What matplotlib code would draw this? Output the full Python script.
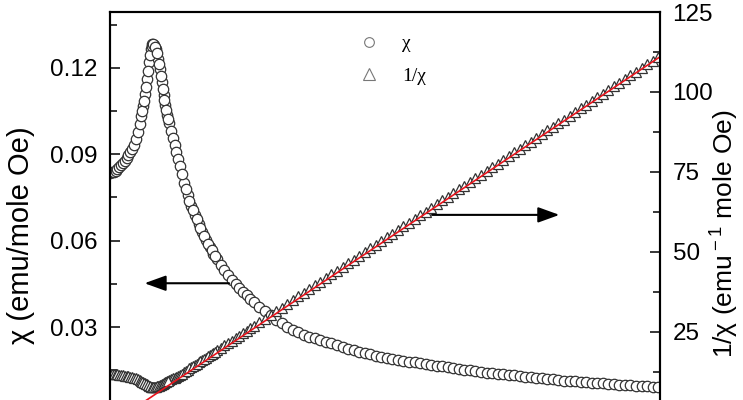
import matplotlib
matplotlib.use("Agg")
import matplotlib.pyplot as plt
from matplotlib.lines import Line2D
from matplotlib.ticker import MultipleLocator, FixedLocator, FormatStrFormatter

plt.rcParams['font.family'] = ['Liberation Sans', 'DejaVu Sans']
plt.rcParams['mathtext.fontset'] = 'custom'
plt.rcParams['mathtext.rm'] = 'Liberation Sans'

# temperature (K)
T = [2, 3, 4, 5, 6, 7, 8, 9, 10, 11, 12, 13, 14, 15, 16, 17, 18, 19, 20, 21,
     22, 23, 24, 25, 26, 27, 28, 29, 30, 31, 32, 33, 34, 35, 36, 37, 38, 39, 40,
     42, 44, 46, 48, 50, 52, 54, 56, 58, 60, 62, 64, 66, 68, 70, 72, 74, 76, 78, 80,
     83, 86, 89, 92, 95, 98, 101, 104, 107, 110, 113, 116, 119, 122, 125, 128,
     131, 134, 137, 140, 143, 146, 149, 152, 155, 158, 161, 164, 167, 170, 173,
     176, 179, 182, 185, 188, 191, 194, 197, 200, 203, 206, 209, 212, 215, 218,
     221, 224, 227, 230, 233, 236, 239, 242, 245, 248, 251, 254, 257, 260, 263,
     266, 269, 272, 275, 278, 281, 284, 287, 290, 293, 296, 299]

# chi (emu/mole Oe)
chi = [0.0836, 0.0837, 0.0839, 0.0843, 0.0848, 0.0854, 0.0861, 0.0868, 0.0876, 0.0886,
       0.0897, 0.0908, 0.0917, 0.0932, 0.0952, 0.0976, 0.1004, 0.1034, 0.1066, 0.1108,
       0.1160, 0.1222, 0.1265, 0.1283, 0.1280, 0.1265, 0.1232, 0.1195, 0.1150, 0.1107,
       0.1070, 0.1038, 0.1008, 0.0982, 0.0956, 0.0932, 0.0908, 0.0884, 0.0860,
       0.0800, 0.0757, 0.0722, 0.0690, 0.0659, 0.0630, 0.0603, 0.0578, 0.0555, 0.0535,
       0.0516, 0.0498, 0.0481, 0.0465, 0.0450, 0.0436, 0.0423, 0.0410, 0.0398, 0.0387,
       0.0370, 0.0354, 0.0340, 0.0326, 0.0313, 0.0301, 0.0289, 0.0281, 0.0274, 0.0267,
       0.0261, 0.0255, 0.0249, 0.0243, 0.0237, 0.0231, 0.0225, 0.0220, 0.0214, 0.0209,
       0.0205, 0.0200, 0.0196, 0.0192, 0.0189, 0.0186, 0.0183, 0.0180, 0.0177, 0.0174,
       0.0171, 0.0169, 0.0166, 0.0163, 0.0160, 0.0158, 0.0155, 0.0152, 0.0149, 0.0146,
       0.0144, 0.0142, 0.0140, 0.0138, 0.0136, 0.0134, 0.0132, 0.0130, 0.0128, 0.0126,
       0.0124, 0.0122, 0.0120, 0.0118, 0.0116, 0.0114, 0.0112, 0.0111, 0.0109, 0.0108,
       0.0106, 0.0105, 0.0104, 0.0102, 0.0101, 0.0100, 0.0099, 0.0097, 0.0096, 0.0095,
       0.0094, 0.0093, 0.0092]

# 1/chi (emu^-1 mole Oe)
inv_chi = [12.0, 11.9, 11.9, 11.9, 11.8, 11.7, 11.6, 11.5, 11.4, 11.3, 11.1, 11.0, 10.9,
           10.7, 10.5, 10.2, 10.0, 9.7, 9.4, 9.0, 8.6, 8.2, 7.9, 7.8, 7.8, 7.9, 8.1, 8.4,
           8.7, 9.0, 9.3, 9.6, 9.9, 10.2, 10.5, 10.7, 11.0, 11.3, 11.6,
           12.4, 13.2, 14.0, 14.7, 15.5, 16.3, 17.0, 17.8, 18.5, 19.3, 20.0, 20.8, 21.6,
           22.3, 23.1, 23.8, 24.6, 25.4, 26.1, 26.9,
           28.0, 29.2, 30.3, 31.5, 32.6, 33.8, 34.9, 36.1, 37.2, 38.4, 39.6, 40.7, 41.9,
           43.0, 44.2, 45.3, 46.5, 47.6, 48.8, 49.9, 51.1, 52.3, 53.4, 54.6, 55.7, 56.9,
           58.0, 59.2, 60.3, 61.5, 62.6, 63.8, 64.9, 66.1, 67.2, 68.4, 69.6, 70.7, 71.9,
           73.0, 74.2, 75.3, 76.5, 77.6, 78.8, 79.9, 81.1, 82.2, 83.4, 84.5, 85.7, 86.8,
           88.0, 89.1, 90.3, 91.4, 92.6, 93.7, 94.9, 96.0, 97.2, 98.3, 99.5, 100.6, 101.8,
           102.9, 104.1, 105.2, 106.4, 107.5, 108.7, 109.8, 111.0]

# extra readings around the transition (denser sampling there)
T_extra = [19.5, 20.5, 21.5, 22.5, 23.5, 24.5, 25.5, 26.5, 27.5, 28.5, 29.5, 30.5,
           31.5, 32.5, 33.5, 41, 43, 45, 47, 49, 51, 53, 55, 57, 59]
chi_extra = [0.1050, 0.1086, 0.1133, 0.1190, 0.1246, 0.1276, 0.1284, 0.1274, 0.1250,
             0.1214, 0.1173, 0.1128, 0.1088, 0.1054, 0.1023, 0.0830, 0.0778, 0.0739,
             0.0706, 0.0674, 0.0644, 0.0616, 0.0590, 0.0566, 0.0545]
inv_extra = [9.5, 9.2, 8.8, 8.4, 8.0, 7.8, 7.8, 7.8, 8.0, 8.2, 8.5, 8.9, 9.2, 9.5, 9.8,
             12.0, 12.8, 13.6, 14.3, 15.1, 15.9, 16.6, 17.4, 18.1, 18.9]

# Curie-Weiss fit line end points
fit_T = [12.2, 300]
fit_inv = [0.0, 111.0]

# tick labels shown
chi_ticks = [0.03, 0.06, 0.09, 0.12]
inv_ticks = [25, 50, 75, 100, 125]

W, H = 743, 400
fig = plt.figure(figsize=(W / 100, H / 100), dpi=100)
ax = fig.add_axes([110 / W, (H - 413.4) / H, 550 / W, 401.4 / H])
ax2 = ax.twinx()

circ = dict(ls='none', marker='o', ms=7.5, mfc='white', mec='#333333', mew=0.9)
tri = dict(ls='none', marker='^', ms=7.5, mfc='white', mec='#333333', mew=0.9)
ax.plot(T, chi, **circ)
ax.plot(T_extra, chi_extra, **circ)
ax2.plot(T, inv_chi, **tri)
ax2.plot(T_extra, inv_extra, **tri)
ax2.plot(fit_T, fit_inv, color='#e8141c', lw=1.2)

ax.set_xlim(2, 300)
ax.set_ylim(0, 0.1394)
ax2.set_ylim(-0.44, 125)

ax.yaxis.set_major_locator(FixedLocator(chi_ticks))
ax.yaxis.set_minor_locator(MultipleLocator(0.015))
ax.yaxis.set_major_formatter(FormatStrFormatter('%.2f'))
ax2.yaxis.set_major_locator(FixedLocator(inv_ticks))
ax2.yaxis.set_minor_locator(MultipleLocator(12.5))

for a in (ax, ax2):
    a.tick_params(which='major', direction='in', length=7.5, width=1.1, labelsize=17.5, pad=9)
    a.tick_params(which='minor', direction='in', length=5, width=1.1)
    for s in a.spines.values():
        s.set_linewidth(1.5)
ax.tick_params(axis='x', labelbottom=False)
ax2.tick_params(axis='y', left=False, which='both')
ax.tick_params(axis='y', right=False, which='both')

ax.set_ylabel('χ (emu/mole Oe)', fontsize=21)
ax.yaxis.set_label_coords(-0.136, 0.444)
ax2.set_ylabel(r'1/χ (emu$^{\rm -1}$ mole Oe)', fontsize=19)
ax2.yaxis.set_label_coords(1.085, 0.448)

# arrows pointing to the matching axis
ax.annotate('', xy=(19.2, 0.0452), xytext=(68, 0.0452),
            arrowprops=dict(arrowstyle='-|>,head_length=1.3,head_width=0.47', color='k', lw=1.5))
ax2.annotate('', xy=(247, 61.6), xytext=(175, 61.6),
             arrowprops=dict(arrowstyle='-|>,head_length=1.3,head_width=0.47', color='k', lw=1.5))

handles = [Line2D([], [], ls='none', marker='o', ms=7, mfc='white', mec='#777777', mew=0.8),
           Line2D([], [], ls='none', marker='^', ms=8, mfc='white', mec='#777777', mew=0.8)]
fig.legend(handles, ['χ', '1/χ'], loc='upper left', bbox_to_anchor=(350 / W, 1 - 25 / H),
           frameon=False, borderpad=0, handlelength=1.0, handletextpad=1.2, labelspacing=0.75,
           prop={'family': ['Liberation Serif', 'DejaVu Serif'], 'size': 14})

fig.savefig('out.png', dpi=100)
